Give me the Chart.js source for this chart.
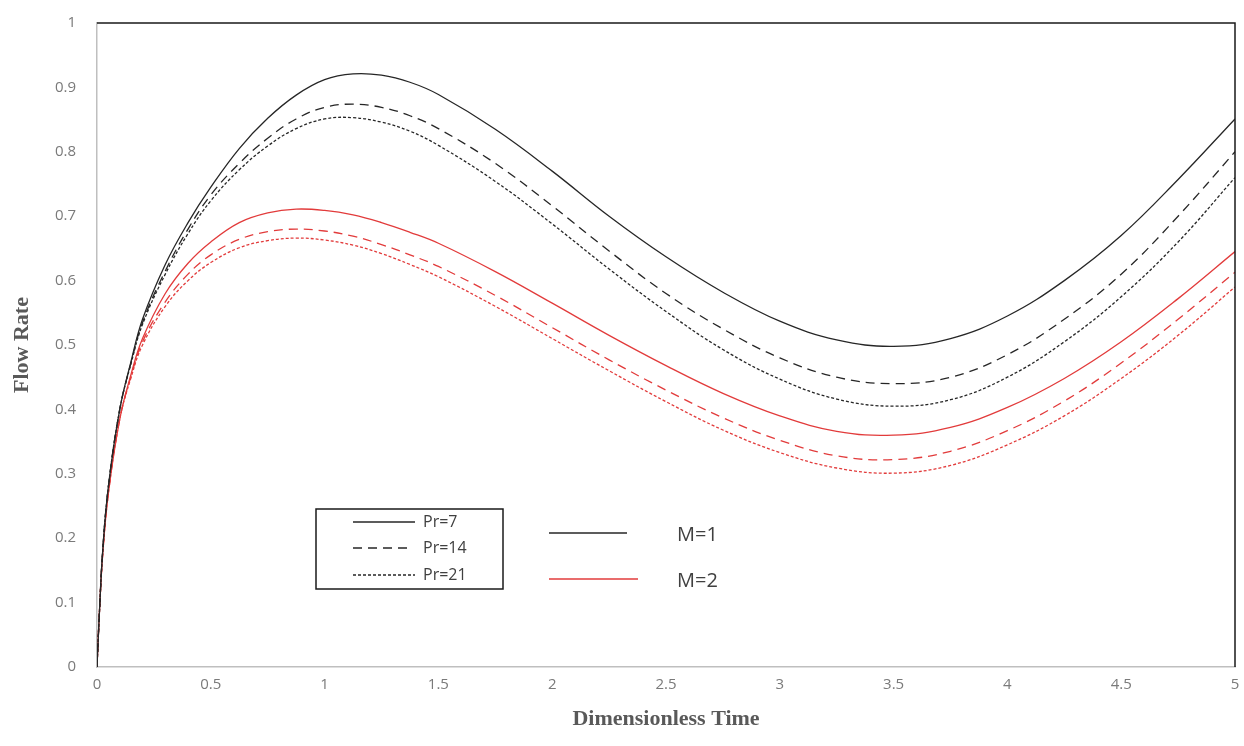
<!DOCTYPE html>
<html>
<head>
<meta charset="utf-8">
<script src="https://cdn.jsdelivr.net/npm/chart.js@4"></script>
<style>
html,body{margin:0;padding:0;background:#fff;}
#wrap{width:1244px;height:746px;position:relative;}
</style>
</head>
<body>
<div id="wrap"><canvas id="c" width="1244" height="746"></canvas></div>
<script>
const xValues = [0, 0.01, 0.025, 0.05, 0.1, 0.15, 0.2, 0.3, 0.4, 0.5, 0.625, 0.75, 0.875, 1.0, 1.125, 1.25, 1.375, 1.5, 1.75, 2.0, 2.25, 2.5, 2.75, 3.0, 3.25, 3.5, 3.75, 4.0, 4.25, 4.5, 4.75, 5.0];

const m1Pr7  = [0, 0.08, 0.18, 0.28, 0.40, 0.475, 0.54, 0.625, 0.69, 0.745, 0.805, 0.852, 0.888, 0.912, 0.921, 0.919, 0.908, 0.889, 0.835, 0.77, 0.70, 0.637, 0.582, 0.537, 0.508, 0.498, 0.51, 0.545, 0.60, 0.67, 0.757, 0.851];
const m1Pr14 = [0, 0.08, 0.18, 0.28, 0.40, 0.473, 0.535, 0.615, 0.68, 0.733, 0.782, 0.821, 0.851, 0.869, 0.874, 0.869, 0.856, 0.836, 0.782, 0.716, 0.646, 0.58, 0.525, 0.48, 0.45, 0.44, 0.45, 0.485, 0.54, 0.61, 0.70, 0.80];
const m1Pr21 = [0, 0.08, 0.18, 0.28, 0.40, 0.472, 0.532, 0.61, 0.673, 0.724, 0.772, 0.809, 0.836, 0.851, 0.853, 0.846, 0.832, 0.81, 0.754, 0.688, 0.618, 0.552, 0.493, 0.447, 0.416, 0.405, 0.415, 0.45, 0.505, 0.575, 0.66, 0.76];
const m2Pr7  = [0, 0.08, 0.175, 0.27, 0.385, 0.455, 0.51, 0.58, 0.627, 0.66, 0.69, 0.705, 0.711, 0.709, 0.702, 0.69, 0.675, 0.658, 0.614, 0.565, 0.515, 0.468, 0.425, 0.39, 0.366, 0.36, 0.372, 0.403, 0.448, 0.505, 0.572, 0.645];
const m2Pr14 = [0, 0.08, 0.175, 0.27, 0.385, 0.452, 0.505, 0.567, 0.61, 0.64, 0.664, 0.676, 0.68, 0.677, 0.669, 0.656, 0.64, 0.622, 0.577, 0.527, 0.477, 0.43, 0.387, 0.352, 0.328, 0.322, 0.335, 0.367, 0.413, 0.472, 0.54, 0.613];
const m2Pr21 = [0, 0.08, 0.175, 0.27, 0.385, 0.45, 0.50, 0.56, 0.60, 0.628, 0.651, 0.662, 0.666, 0.663, 0.655, 0.642, 0.625, 0.606, 0.56, 0.51, 0.46, 0.412, 0.368, 0.333, 0.309, 0.301, 0.313, 0.345, 0.39, 0.448, 0.515, 0.59];

const xTicks = [0, 0.5, 1, 1.5, 2, 2.5, 3, 3.5, 4, 4.5, 5];
const yTicks = [0, 0.1, 0.2, 0.3, 0.4, 0.5, 0.6, 0.7, 0.8, 0.9, 1];
const prLabels = ["Pr=7", "Pr=14", "Pr=21"];
const mLabels = ["M=1", "M=2"];

const BLACK = '#262626';
const RED = '#e23b3b';
const DASH = [[], [9, 6], [3, 2]];
const TICKFONT = { family: '"Open Sans", "Noto Sans", sans-serif', size: 15 };

function pts(arr){ return xValues.map((x,i)=>({x:x, y:arr[i]})); }
function ds(arr, color, dashIdx){
  return {data: pts(arr), borderColor: color, borderWidth: 1.3, borderDash: DASH[dashIdx],
    pointRadius: 0, fill: false, tension: 0.4};
}

const framePlugin = {
  id: 'frame',
  afterDraw(chart){
    const ctx = chart.ctx, a = chart.chartArea;
    ctx.save();
    ctx.strokeStyle = '#1a1a1a'; ctx.lineWidth = 1.5;
    ctx.beginPath(); ctx.moveTo(a.left, a.top); ctx.lineTo(a.right, a.top); ctx.lineTo(a.right, a.bottom); ctx.stroke();
    ctx.fillStyle = '#595959';
    ctx.font = 'bold 22px "Liberation Serif", "Times New Roman", serif';
    ctx.textAlign = 'center'; ctx.textBaseline = 'middle';
    ctx.fillText('Dimensionless Time', (a.left + a.right)/2, 719);
    ctx.save(); ctx.translate(22, 345); ctx.rotate(-Math.PI/2); ctx.fillText('Flow Rate', 0, 0); ctx.restore();
    ctx.strokeStyle = '#1a1a1a'; ctx.lineWidth = 1.5;
    ctx.strokeRect(316, 509, 187, 80);
    const rows = [522, 548, 575];
    ctx.font = '16px "Open Sans", "Noto Sans", sans-serif';
    ctx.textAlign = 'left';
    for (let i = 0; i < 3; i++){
      ctx.beginPath(); ctx.strokeStyle = BLACK; ctx.lineWidth = 1.3; ctx.setLineDash(DASH[i]);
      ctx.moveTo(353, rows[i]); ctx.lineTo(i === 1 ? 409 : 415, rows[i]); ctx.stroke();
      ctx.setLineDash([]);
      ctx.fillStyle = '#404040';
      ctx.fillText(prLabels[i], 423, rows[i]);
    }
    const mRows = [533, 579];
    const mCols = [BLACK, RED];
    const mEnd = [627, 638];
    ctx.font = '20px "Open Sans", "Noto Sans", sans-serif';
    for (let i = 0; i < 2; i++){
      ctx.beginPath(); ctx.strokeStyle = mCols[i]; ctx.lineWidth = 1.4;
      ctx.moveTo(549, mRows[i]); ctx.lineTo(mEnd[i], mRows[i]); ctx.stroke();
      ctx.fillStyle = '#404040';
      ctx.fillText(mLabels[i], 677, mRows[i] + 2);
    }
    ctx.restore();
  }
};

new Chart(document.getElementById('c'), {
  type: 'line',
  data: { datasets: [
    ds(m1Pr7, BLACK, 0), ds(m1Pr14, BLACK, 1), ds(m1Pr21, BLACK, 2),
    ds(m2Pr7, RED, 0), ds(m2Pr14, RED, 1), ds(m2Pr21, RED, 2)
  ]},
  options: {
    responsive: false, animation: false,
    layout: { padding: { left: 0, right: 9, top: 23, bottom: 0 } },
    plugins: { legend: { display: false }, tooltip: { enabled: false } },
    scales: {
      x: {
        type: 'linear', min: 0, max: 5,
        afterBuildTicks(s){ s.ticks = xTicks.map(v => ({value: v})); },
        afterFit(s){ s.height = 79; s.paddingLeft = 0; s.paddingRight = 0; },
        grid: { display: false, drawTicks: false },
        border: { display: true, color: '#bfbfbf', width: 1.5 },
        ticks: { padding: 9, color: '#7a7a7a', font: TICKFONT,
          callback: v => String(v), maxRotation: 0, autoSkip: false }
      },
      y: {
        type: 'linear', min: 0, max: 1,
        afterBuildTicks(s){ s.ticks = yTicks.map(v => ({value: v})); },
        afterFit(s){ s.width = 97; s.paddingTop = 0; s.paddingBottom = 0; },
        grid: { display: false, drawTicks: false },
        border: { display: true, color: '#bfbfbf', width: 1.5 },
        ticks: { padding: 21, color: '#7a7a7a', font: TICKFONT,
          callback: v => String(v), autoSkip: false }
      }
    }
  },
  plugins: [framePlugin]
});
</script>
</body>
</html>
